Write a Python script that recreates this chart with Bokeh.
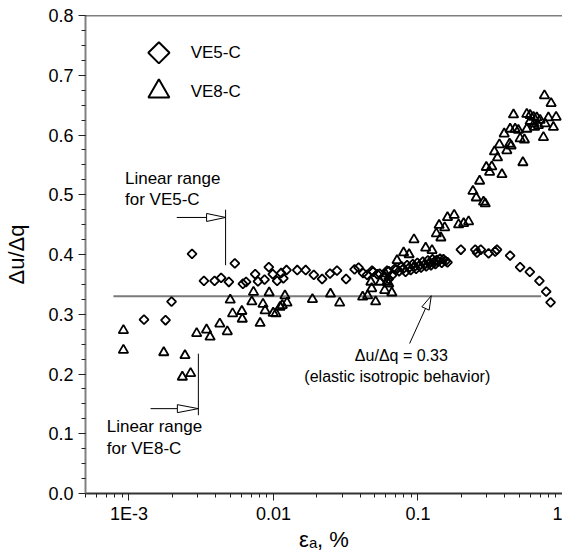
import numpy as np
from bokeh.plotting import figure
from bokeh.models import Range1d, FixedTicker, PrintfTickFormatter, Label, Span
from bokeh.embed import file_html
from bokeh.resources import INLINE

# ---------------- data ----------------
ve5_strain = [1.27e-3, 1.79e-3, 1.97e-3, 2.73e-3, 3.30e-3, 3.91e-3, 4.34e-3, 4.91e-3, 5.40e-3,
              6.14e-3, 6.46e-3, 7.47e-3, 7.81e-3, 8.67e-3, 9.28e-3, 9.89e-3, 1.06e-2, 1.13e-2,
              1.17e-2, 1.23e-2, 1.46e-2, 1.67e-2, 1.90e-2, 2.17e-2, 2.46e-2, 2.75e-2, 3.18e-2,
              3.64e-2, 3.88e-2, 4.17e-2, 4.44e-2, 4.81e-2, 4.89e-2, 5.23e-2, 5.43e-2, 5.78e-2,
              6.11e-2, 6.27e-2, 6.27e-2, 6.6e-2, 6.9e-2,
              0.071, 0.074, 0.077, 0.079, 0.082, 0.084, 0.087, 0.089, 0.092, 0.094, 0.097, 0.099,
              0.102, 0.105, 0.108, 0.111, 0.114, 0.117, 0.120, 0.123, 0.126, 0.129, 0.132, 0.135,
              0.138, 0.142, 0.146, 0.150, 0.155, 0.160,
              0.198, 0.249, 0.256, 0.272, 0.308, 0.342, 0.352, 0.434, 0.509, 0.594, 0.692, 0.771,
              0.827]
ve5_ratio = [0.291, 0.290, 0.321, 0.401, 0.356, 0.356, 0.361, 0.354, 0.385,
             0.351, 0.354, 0.367, 0.355, 0.358, 0.379, 0.367, 0.356, 0.369,
             0.360, 0.374, 0.374, 0.374, 0.366, 0.359, 0.368, 0.373, 0.359,
             0.375, 0.378, 0.369, 0.366, 0.373, 0.371, 0.367, 0.368, 0.362,
             0.373, 0.359, 0.372, 0.365, 0.376,
             0.375, 0.372, 0.380, 0.376, 0.371, 0.382, 0.378, 0.374, 0.384, 0.379, 0.376, 0.386,
             0.381, 0.378, 0.388, 0.383, 0.380, 0.390, 0.385, 0.382, 0.392, 0.387, 0.384, 0.391,
             0.388, 0.393, 0.386, 0.392, 0.389, 0.387,
             0.408, 0.408, 0.403, 0.408, 0.402, 0.405, 0.408, 0.398, 0.379, 0.371, 0.356, 0.338,
             0.320]

ve8_strain = [9.15e-4, 9.15e-4, 1.74e-3, 2.44e-3, 2.34e-3, 2.67e-3, 2.94e-3, 3.44e-3, 3.64e-3,
              4.25e-3, 4.79e-3, 5.02e-3, 5.21e-3, 6.04e-3, 6.08e-3, 7.08e-3, 7.27e-3, 8.08e-3,
              8.46e-3, 8.75e-3, 9.33e-3, 9.95e-3, 1.04e-2, 1.11e-2, 1.15e-2, 1.20e-2, 1.24e-2,
              1.86e-2, 2.48e-2, 2.87e-2, 4.14e-2, 4.48e-2, 4.78e-2, 5.09e-2, 4.72e-2, 5.49e-2,
              5.88e-2, 6.11e-2, 5.94e-2, 6.59e-2, 6.27e-2, 7.16e-2, 7.95e-2, 8.68e-2, 9.38e-2,
              0.113, 0.125, 0.134, 0.144, 0.140, 0.153, 0.160, 0.178, 0.191, 0.207, 0.224,
              0.240, 0.253, 0.284, 0.292, 0.267, 0.297, 0.324, 0.313, 0.338, 0.355, 0.381,
              0.366, 0.412, 0.395, 0.430, 0.441, 0.434, 0.470, 0.495, 0.509, 0.545, 0.532,
              0.458, 0.566, 0.597, 0.630, 0.664, 0.700, 0.799, 0.903, 0.597, 0.637, 0.681,
              0.758, 0.865, 0.566, 0.641, 0.738, 0.750, 0.834]
ve8_ratio = [0.273, 0.240, 0.236, 0.231, 0.195, 0.201, 0.268, 0.274, 0.262,
             0.284, 0.271, 0.324, 0.301, 0.305, 0.292, 0.321, 0.337, 0.285,
             0.317, 0.306, 0.336, 0.302, 0.301, 0.312, 0.315, 0.331, 0.319,
             0.325, 0.334, 0.319, 0.329, 0.331, 0.343, 0.321, 0.354, 0.354,
             0.340, 0.354, 0.368, 0.336, 0.351, 0.390, 0.403, 0.400, 0.425,
             0.411, 0.407, 0.435, 0.428, 0.449, 0.445, 0.462, 0.466, 0.450, 0.452, 0.455,
             0.506, 0.495, 0.488, 0.485, 0.523, 0.546, 0.547, 0.538, 0.572, 0.562, 0.534,
             0.584, 0.574, 0.602, 0.585, 0.582, 0.610, 0.610, 0.608, 0.594, 0.592, 0.554,
             0.634, 0.635, 0.633, 0.630, 0.629, 0.625, 0.629, 0.630, 0.623, 0.619, 0.616,
             0.619, 0.613, 0.610, 0.613, 0.596, 0.666, 0.653]

series_names = ["VE5-C", "VE8-C"]
elastic_ratio = 0.33
x_major = [0.001, 0.01, 0.1, 1.0]
x_major_labels = ["1E-3", "0.01", "0.1", "1"]
y_major = [0.0, 0.1, 0.2, 0.3, 0.4, 0.5, 0.6, 0.7, 0.8]

# ---------------- layout ----------------
W, H = 562, 556
FL, FR, FT, FB = 85, 562, 15, 493
X0, X1, Y0, Y1 = 5e-4, 1.0, 0.0, 0.8
FONT = "Liberation Sans"

p = figure(width=W, height=H, x_axis_type="log",
           x_range=Range1d(X0, X1), y_range=Range1d(Y0, Y1),
           output_backend="svg", toolbar_location=None,
           min_border_left=FL, min_border_right=W - FR,
           min_border_top=FT, min_border_bottom=H - FB)
p.outline_line_color = None
p.xgrid.visible = False
p.ygrid.visible = False
p.background_fill_color = "white"
p.border_fill_color = "white"

minor_x = [m * d for d in (1e-4, 1e-3, 1e-2, 1e-1) for m in range(2, 10) if X0 <= m * d <= X1]
p.xaxis.ticker = FixedTicker(ticks=x_major, minor_ticks=minor_x)
p.xaxis.major_label_overrides = {t: s for t, s in zip(x_major, x_major_labels)}
p.yaxis.ticker = FixedTicker(ticks=y_major, minor_ticks=[round(0.025 * i, 3) for i in range(33)])
p.yaxis.formatter = PrintfTickFormatter(format="%.1f")

for ax in (p.xaxis[0], p.yaxis[0]):
    ax.major_tick_out = 7
    ax.major_tick_in = 0
    ax.minor_tick_out = 4
    ax.minor_tick_in = 0
    ax.major_label_text_font = FONT
    ax.major_label_text_font_size = "18px"
    ax.major_label_text_color = "black"
    ax.major_tick_line_color = "#222222"
    ax.minor_tick_line_color = "#222222"
    ax.major_label_standoff = 5
    ax.axis_label_text_font = FONT
    ax.axis_label_text_font_style = "normal"
    ax.axis_label_text_color = "black"
p.yaxis.axis_line_color = "#808080"
p.yaxis.axis_line_width = 2
p.xaxis.axis_line_color = "#333333"
p.xaxis.axis_line_width = 2

p.yaxis.axis_label = "\u0394u/\u0394q"
p.yaxis.axis_label_text_font_size = "22px"
p.yaxis.axis_label_standoff = 16
p.xaxis.axis_label = "\u03b5\u2090, %"
p.xaxis.axis_label_text_font_size = "22px"
p.xaxis.major_label_standoff = 3
p.xaxis.axis_label_standoff = 0

p.add_layout(Span(location=Y1, dimension="width", line_color="black", line_width=1.5))


# helpers to convert between data and screen (for arrowheads only)
def to_px(x, y):
    fx = (np.log10(x) - np.log10(X0)) / (np.log10(X1) - np.log10(X0))
    fy = (y - Y0) / (Y1 - Y0)
    return FL + fx * (FR - FL), FB - fy * (FB - FT)


def to_data(px, py):
    fx = (px - FL) / (FR - FL)
    fy = (FB - py) / (FB - FT)
    return 10 ** (np.log10(X0) + fx * (np.log10(X1) - np.log10(X0))), Y0 + fy * (Y1 - Y0)


def arrow(tail, tip, length, half):
    tx, ty = to_px(*tail)
    hx, hy = to_px(*tip)
    d = np.hypot(hx - tx, hy - ty)
    ux, uy = (hx - tx) / d, (hy - ty) / d
    bx, by = hx - ux * length, hy - uy * length
    pts = [(hx, hy), (bx - uy * half, by + ux * half), (bx + uy * half, by - ux * half)]
    dpts = [to_data(a, b) for a, b in pts]
    base = to_data(bx, by)
    p.segment(x0=[tail[0]], y0=[tail[1]], x1=[base[0]], y1=[base[1]], line_color="black", line_width=1)
    p.patch([q[0] for q in dpts], [q[1] for q in dpts], fill_color="white",
            line_color="black", line_width=1)


# elastic line
p.segment(x0=[7.8e-4], y0=[elastic_ratio], x1=[0.711], y1=[elastic_ratio],
          line_color="#7a7a7a", line_width=2)

# data
p.scatter(ve5_strain, ve5_ratio, marker="square", angle=np.pi / 4, size=6.4,
          fill_color=None, line_color="black", line_width=1.8)
p.scatter(ve8_strain, ve8_ratio, marker="triangle", size=9.5,
          fill_color=None, line_color="black", line_width=1.8)

# linear range annotations
p.segment(x0=[4.66e-3], y0=[0.382], x1=[4.66e-3], y1=[0.475], line_color="black", line_width=1)
arrow((2.14e-3, 0.462), (4.66e-3, 0.462), 19, 4)
p.segment(x0=[3.02e-3], y0=[0.131], x1=[3.02e-3], y1=[0.234], line_color="black", line_width=1)
arrow((1.41e-3, 0.142), (3.02e-3, 0.142), 21, 4)
arrow((0.0875, 0.251), (0.1236, 0.331), 14, 4)


def lab(x, y, text, size="17px", align="left", **kw):
    p.add_layout(Label(x=x, y=y, text=text, text_font=FONT, text_font_size=size,
                       text_align=align, text_baseline="middle", text_color="black", **kw))


lab(9.38e-4, 0.528, "Linear range")
lab(9.38e-4, 0.4915, "for VE5-C")
lab(7.01e-4, 0.112, "Linear range")
lab(7.01e-4, 0.076, "for VE8-C")
lab(0.0767, 0.231, "\u0394u/\u0394q = 0.33", size="16px", align="center")
lab(0.0719, 0.196, "(elastic isotropic behavior)", size="16px", align="center")

# legend (manual)
p.scatter([1.61e-3], [0.7376], marker="square", angle=np.pi / 4, size=15,
          fill_color=None, line_color="black", line_width=2)
p.scatter([1.61e-3], [0.673], marker="triangle", size=21,
          fill_color=None, line_color="black", line_width=2)
lab(2.67e-3, 0.7376, series_names[0])
lab(2.67e-3, 0.673, series_names[1])

open("out.html", "w").write(file_html(p, INLINE))
